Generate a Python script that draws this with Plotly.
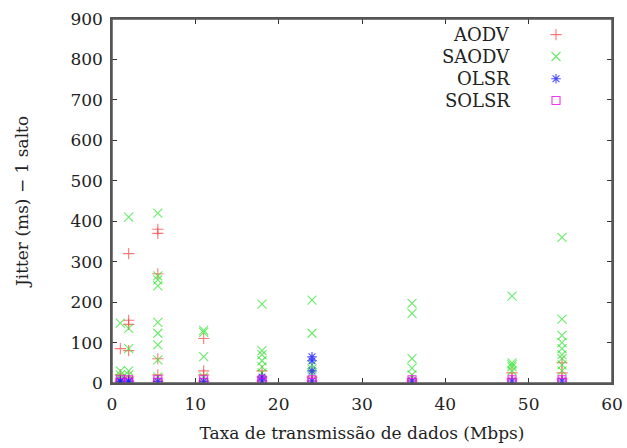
import plotly.graph_objects as go

# ---- data ----
aodv_x = [1, 1, 1, 1,
          2, 2, 2, 2, 2, 2,
          5.5, 5.5, 5.5, 5.5, 5.5, 5.5,
          11, 11, 11, 11,
          18, 18, 18,
          24, 24,
          36, 36,
          48, 48,
          54, 54, 54]
aodv_y = [85, 20, 10, 5,
          320, 155, 145, 80, 15, 5,
          380, 370, 270, 60, 20, 5,
          110, 30, 20, 5,
          30, 15, 5,
          15, 5,
          10, 5,
          25, 10,
          50, 25, 10]

saodv_x = [1, 1, 1, 1,
           2, 2, 2, 2, 2,
           5.5, 5.5, 5.5, 5.5, 5.5, 5.5, 5.5, 5.5, 5.5,
           11, 11, 11, 11,
           18, 18, 18, 18, 18, 18,
           24, 24, 24, 24, 24,
           36, 36, 36, 36, 36,
           48, 48, 48, 48, 48,
           54, 54, 54, 54, 54, 54, 54, 54, 54]
saodv_y = [148, 30, 20, 10,
           410, 135, 85, 30, 20,
           420, 265, 255, 240, 150, 123, 94, 57, 15,
           130, 125, 65, 15,
           195, 80, 70, 55, 40, 25,
           205, 123, 45, 35, 25,
           197, 172, 60, 37, 20,
           215, 50, 45, 40, 30,
           360, 158, 118, 100, 85, 70, 60, 45, 30]

olsr_x = [1, 1, 2, 2, 5.5, 11, 18, 18, 24, 24, 24, 24, 36, 48, 54]
olsr_y = [5, 3, 5, 3, 4, 4, 15, 5, 65, 55, 30, 5, 5, 5, 5]

solsr_x = [1, 1, 2, 2, 5.5, 5.5, 11, 11, 18, 18, 24, 24, 36, 36, 48, 48, 54, 54]
solsr_y = [8, 2, 8, 2, 8, 2, 8, 2, 8, 2, 8, 2, 8, 2, 8, 2, 8, 2]

series_names = ["AODV", "SAODV", "OLSR", "SOLSR"]
series_colors = ["rgba(255,60,60,0.7)", "rgba(40,230,40,0.7)",
                 "rgba(30,30,255,0.8)", "rgba(240,0,240,0.8)"]
series_symbols = ["cross-thin-open", "x-thin-open", "asterisk-open", "square-open"]
series_sizes = [8, 9, 8, 8]

x_ticks = [0, 10, 20, 30, 40, 50, 60]
y_ticks = [0, 100, 200, 300, 400, 500, 600, 700, 800, 900]

FONT = "DejaVu Serif"

fig = go.Figure()
data = [(aodv_x, aodv_y), (saodv_x, saodv_y), (olsr_x, olsr_y), (solsr_x, solsr_y)]
for (xs, ys), name, col, sym, sz in zip(data, series_names, series_colors,
                                        series_symbols, series_sizes):
    fig.add_trace(go.Scatter(
        x=xs, y=ys, mode="markers", name=name, showlegend=False,
        marker=dict(symbol=sym, size=sz, color=col,
                    line=dict(color=col, width=1.1)),
    ))

# manual legend (text right-aligned, sample to its right), gnuplot-style
leg_rows = [0.957, 0.897, 0.836, 0.776]
for name, col, sym, sz, yy in zip(series_names, series_colors, series_symbols,
                                  series_sizes, leg_rows):
    fig.add_trace(go.Scatter(
        x=[0.888], y=[yy], xaxis="x2", yaxis="y2", mode="markers",
        showlegend=False, hoverinfo="skip",
        marker=dict(symbol=sym, size=sz, color=col, line=dict(color=col, width=1.1)),
    ))
    fig.add_annotation(x=0.8, y=yy, xref="paper", yref="paper", text=name,
                       showarrow=False, xanchor="right", yanchor="middle",
                       font=dict(family=FONT, size=18, color="#222"))

axis_common = dict(ticks="inside", ticklen=5, showgrid=False, zeroline=False,
                   showline=True, linecolor="#555", linewidth=1.5, mirror="allticks",
                   tickcolor="#333", automargin=False,
                   tickfont=dict(family=FONT, size=17, color="#222"))

fig.update_layout(
    width=627, height=448,
    margin=dict(l=112, r=15, t=19, b=65),
    paper_bgcolor="white", plot_bgcolor="white",
    font=dict(family=FONT, size=15, color="#222"),
    xaxis=dict(range=[0, 60], tickvals=x_ticks, ticklabelstandoff=5, **axis_common,
               title=dict(text="Taxa de transmissão de dados (Mbps)",
                          font=dict(family=FONT, size=17), standoff=14)),
    yaxis=dict(range=[0, 900], tickvals=y_ticks, ticklabelstandoff=4, **axis_common,
               title=dict(text="Jitter (ms) − 1 salto",
                          font=dict(family=FONT, size=17), standoff=37)),
    xaxis2=dict(range=[0, 1], overlaying="x", visible=False, fixedrange=True),
    yaxis2=dict(range=[0, 1], overlaying="y", visible=False, fixedrange=True),
    shapes=[dict(type="rect", xref="paper", yref="paper", x0=0, y0=0, x1=1, y1=1,
                 line=dict(color="#555", width=1.5), fillcolor="rgba(0,0,0,0)",
                 layer="above")],
)

fig.write_html("out.html")
